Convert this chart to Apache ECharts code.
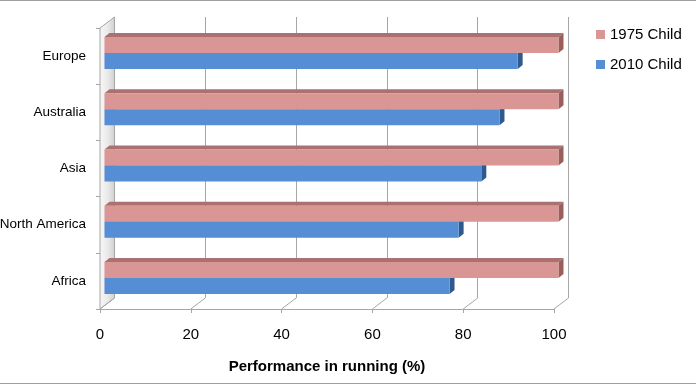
<!DOCTYPE html>
<html>
<head>
<meta charset="utf-8">
<script src="https://cdn.jsdelivr.net/npm/echarts@6/dist/echarts.min.js"></script>
<style>
html,body{margin:0;padding:0;background:#fff;}
#chart{width:696px;height:385px;}
</style>
</head>
<body>
<div id="chart"></div>
<script>
var categories = ['Europe', 'Australia', 'Asia', 'North America', 'Africa'];
var seriesNames = ['1975 Child', '2010 Child'];
var values1975 = [100, 100, 100, 100, 100];
var values2010 = [91, 87, 83, 78, 76];
var xTicks = [0, 20, 40, 60, 80, 100];

var FONT = '"Liberation Sans", Arial, sans-serif';
var DEPTH_X = 14.5, DEPTH_Y = 11;   // wall depth
var BAR_DX = 5, BAR_DY = 4;         // bar depth
var BAR_OFF_X = 4.5, BAR_OFF_Y = -3;
var BAR_H = 16;

function makeBarRender(front, top, side, upper) {
  return function (params, api) {
    var idx = api.value(1);
    var p = api.coord([api.value(0), idx]);
    var p0 = api.coord([0, idx]);
    var x0 = p0[0] + BAR_OFF_X;
    var x1 = p[0] + BAR_OFF_X;
    var yc = p[1] + BAR_OFF_Y;
    var yT = upper ? yc - BAR_H : yc;
    var yB = upper ? yc : yc + BAR_H;
    var children = [];
    children.push({
      type: 'polygon',
      shape: {points: [[x0, yT], [x0 + BAR_DX, yT - BAR_DY], [x1 + BAR_DX, yT - BAR_DY], [x1, yT]]},
      style: {fill: top}
    });
    children.push({
      type: 'polygon',
      shape: {points: [[x1, yT], [x1 + BAR_DX, yT - BAR_DY], [x1 + BAR_DX, yB - BAR_DY], [x1, yB]]},
      style: {fill: side}
    });
    children.push({
      type: 'rect',
      shape: {x: x0, y: yT, width: x1 - x0, height: yB - yT},
      style: {fill: front}
    });
    return {type: 'group', children: children};
  };
}

function decoRender(params, api) {
  var cs = params.coordSys;
  var v = api.value(0);
  var x = api.coord([v, 0])[0];
  var bottom = cs.y + cs.height;
  var children = [];
  if (v === 0) {
    children.push({
      type: 'polygon',
      shape: {points: [[cs.x, cs.y], [cs.x + DEPTH_X, cs.y - DEPTH_Y], [cs.x + DEPTH_X, bottom - DEPTH_Y], [cs.x, bottom]]},
      style: {
        fill: {
          type: 'linear', x: 0, y: 0, x2: 1, y2: 0,
          colorStops: [{offset: 0, color: '#f7f7f7'}, {offset: 0.5, color: '#ebebeb'}, {offset: 1, color: '#cfcfcf'}]
        },
        stroke: '#a6a6a6', lineWidth: 1
      },
      z2: 0
    });
  }
  children.push({
    type: 'line',
    shape: {x1: x, y1: bottom, x2: x + DEPTH_X, y2: bottom - DEPTH_Y},
    style: {stroke: '#a6a6a6', lineWidth: 1}
  });
  return {type: 'group', children: children};
}

var chart = echarts.init(document.getElementById('chart'), null, {renderer: 'canvas'});
var option = {
  animation: false,
  backgroundColor: '#ffffff',
  legend: {
    orient: 'vertical',
    left: 596,
    top: 27,
    padding: 0,
    itemWidth: 9,
    itemHeight: 9,
    itemGap: 15,
    icon: 'rect',
    data: seriesNames,
    textStyle: {fontFamily: FONT, fontSize: 15, color: '#000'}
  },
  graphic: [
    {type: 'line', shape: {x1: 0, y1: 0.5, x2: 696, y2: 0.5}, style: {stroke: '#a0a0a0', lineWidth: 1}},
    {type: 'line', shape: {x1: 0, y1: 383.5, x2: 696, y2: 383.5}, style: {stroke: '#a0a0a0', lineWidth: 1}}
  ],
  grid: [
    {left: 100, right: 142, top: 28, bottom: 76, containLabel: false, outerBoundsMode: 'none'},
    {left: 114.5, right: 127.5, top: 17, bottom: 87, containLabel: false, outerBoundsMode: 'none'}
  ],
  xAxis: [
    {
      type: 'value', gridIndex: 0, min: 0, max: 100, interval: 20,
      axisLine: {show: true, lineStyle: {color: '#a6a6a6'}},
      axisTick: {show: true, length: 4, lineStyle: {color: '#a6a6a6'}},
      splitLine: {show: false},
      axisLabel: {fontFamily: FONT, fontSize: 15, color: '#000', margin: 18},
      name: 'Performance in running (%)',
      nameLocation: 'middle',
      nameGap: 50,
      nameTextStyle: {fontFamily: FONT, fontSize: 15, fontWeight: 'bold', color: '#000'}
    },
    {
      type: 'value', gridIndex: 1, min: 0, max: 100, interval: 20,
      axisLine: {show: false}, axisTick: {show: false}, axisLabel: {show: false},
      splitLine: {show: true, lineStyle: {color: '#a6a6a6', width: 1}}
    }
  ],
  yAxis: [
    {
      type: 'category', gridIndex: 0, data: categories, inverse: true,
      axisLine: {show: true, lineStyle: {color: '#a6a6a6'}},
      axisTick: {show: true, length: 4, lineStyle: {color: '#a6a6a6'}},
      axisLabel: {fontFamily: FONT, fontSize: 13.5, color: '#000', margin: 14}
    },
    {
      type: 'category', gridIndex: 1, data: categories, inverse: true, show: false
    }
  ],
  series: [
    {
      name: seriesNames[0], type: 'custom', xAxisIndex: 0, yAxisIndex: 0, z: 4,
      itemStyle: {color: '#d99694'},
      renderItem: makeBarRender('#d99694', '#a9716f', '#9a5e5c', true),
      encode: {x: 0, y: 1},
      data: values1975.map(function (v, i) { return [v, i]; })
    },
    {
      name: seriesNames[1], type: 'custom', xAxisIndex: 0, yAxisIndex: 0, z: 3,
      itemStyle: {color: '#558ed5'},
      renderItem: makeBarRender('#558ed5', '#3d6ba5', '#2f5a8d', false),
      encode: {x: 0, y: 1},
      data: values2010.map(function (v, i) { return [v, i]; })
    },
    {
      name: 'deco', type: 'custom', xAxisIndex: 0, yAxisIndex: 0, z: 1,
      silent: true,
      renderItem: decoRender,
      encode: {x: 0},
      data: xTicks.map(function (v) { return [v]; })
    }
  ]
};
chart.setOption(option);
</script>
</body>
</html>
